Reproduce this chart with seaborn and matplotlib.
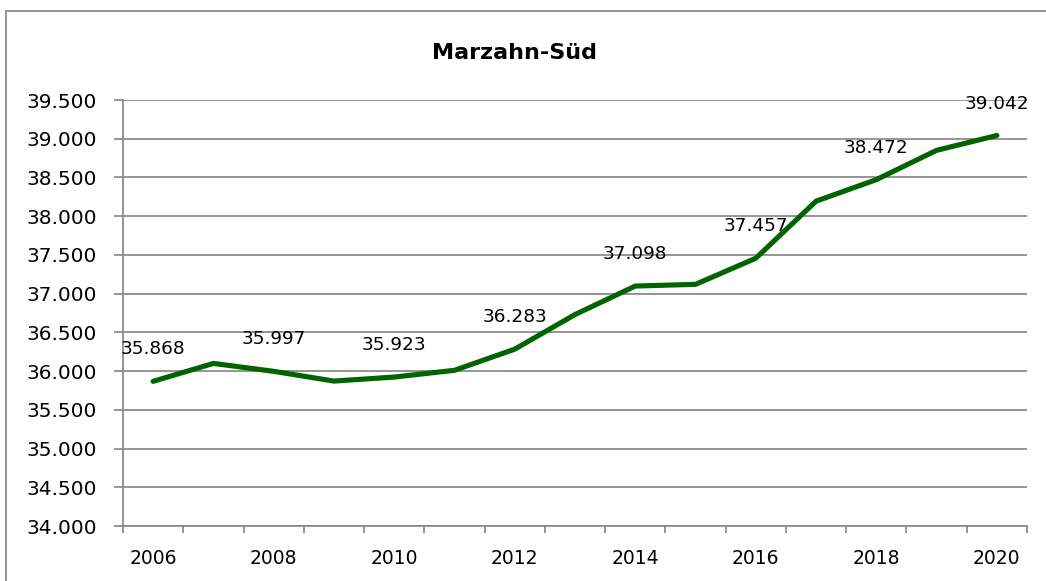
import matplotlib
matplotlib.use("Agg")
import matplotlib.pyplot as plt
from matplotlib.patches import Rectangle
from matplotlib.ticker import FuncFormatter, FixedLocator
import seaborn as sns
import pandas as pd

years = [2006, 2007, 2008, 2009, 2010, 2011, 2012, 2013, 2014, 2015, 2016, 2017, 2018, 2019, 2020]
population = [35868, 36099, 35997, 35871, 35923, 36010, 36283, 36730, 37098, 37120, 37457, 38194, 38472, 38850, 39042]
labeled_years = [2006, 2008, 2010, 2012, 2014, 2016, 2018, 2020]
title = "Marzahn-Süd"

sns.set_style("white")
plt.rcParams['font.family'] = ['DejaVu Sans']
plt.rcParams['text.color'] = 'black'
plt.rcParams['xtick.color'] = 'black'
plt.rcParams['ytick.color'] = 'black'

df = pd.DataFrame({"Jahr": years, "Einwohner": population})

W, H = 1046, 581
fig = plt.figure(figsize=(W / 100, H / 100), dpi=100)
ax = fig.add_axes([123 / W, 1 - 526 / H, (1027 - 123) / W, (526 - 100) / H])

grid_c = "#8c8c8c"
sns.lineplot(data=df, x="Jahr", y="Einwohner", ax=ax, color="#006400", linewidth=3.7,
             solid_capstyle="round", zorder=3)

ax.set_xlim(2005.5, 2020.5)
ax.set_ylim(34000, 39500)
ax.set_xlabel("")
ax.set_ylabel("")

ax.yaxis.set_major_locator(FixedLocator(list(range(34000, 39501, 500))))
ax.yaxis.set_major_formatter(FuncFormatter(lambda v, p: f"{int(v):,}".replace(",", ".")))
ax.grid(axis="y", color=grid_c, linewidth=1.3)
ax.set_axisbelow(True)

ax.xaxis.set_major_locator(FixedLocator(labeled_years))
ax.xaxis.set_minor_locator(FixedLocator([y + 0.5 for y in range(2005, 2021)]))
ax.tick_params(axis="x", which="both", bottom=True)
ax.tick_params(axis="y", which="both", left=True)
ax.tick_params(axis="x", which="major", length=0, pad=16.5, labelsize=13.5, labelcolor="black")
ax.tick_params(axis="x", which="minor", length=5, width=1.3, color=grid_c, direction="out")
ax.tick_params(axis="y", which="major", length=6.5, width=1.3, color=grid_c, direction="out",
               labelsize=14.5, pad=12, labelcolor="black")

for s in ["top", "right"]:
    ax.spines[s].set_visible(False)
for s in ["left", "bottom"]:
    ax.spines[s].set_color(grid_c)
    ax.spines[s].set_linewidth(1.3)

for yr, val in zip(years, population):
    if yr in labeled_years:
        ax.annotate(f"{val:,}".replace(",", "."), xy=(yr, val), xytext=(0, 23),
                    textcoords="offset points", ha="center", va="center",
                    fontsize=13.3, color="black", zorder=4)

fig.text(515 / W, 1 - 53 / H, title, ha="center", va="center", fontsize=16,
         fontweight="bold", color="black")

fig.patches.append(Rectangle((6 / W, -0.5), 3, 1 - 11 / H + 0.5, transform=fig.transFigure,
                             fill=False, edgecolor=grid_c, linewidth=1.3))

fig.savefig("out.png", dpi=100)
